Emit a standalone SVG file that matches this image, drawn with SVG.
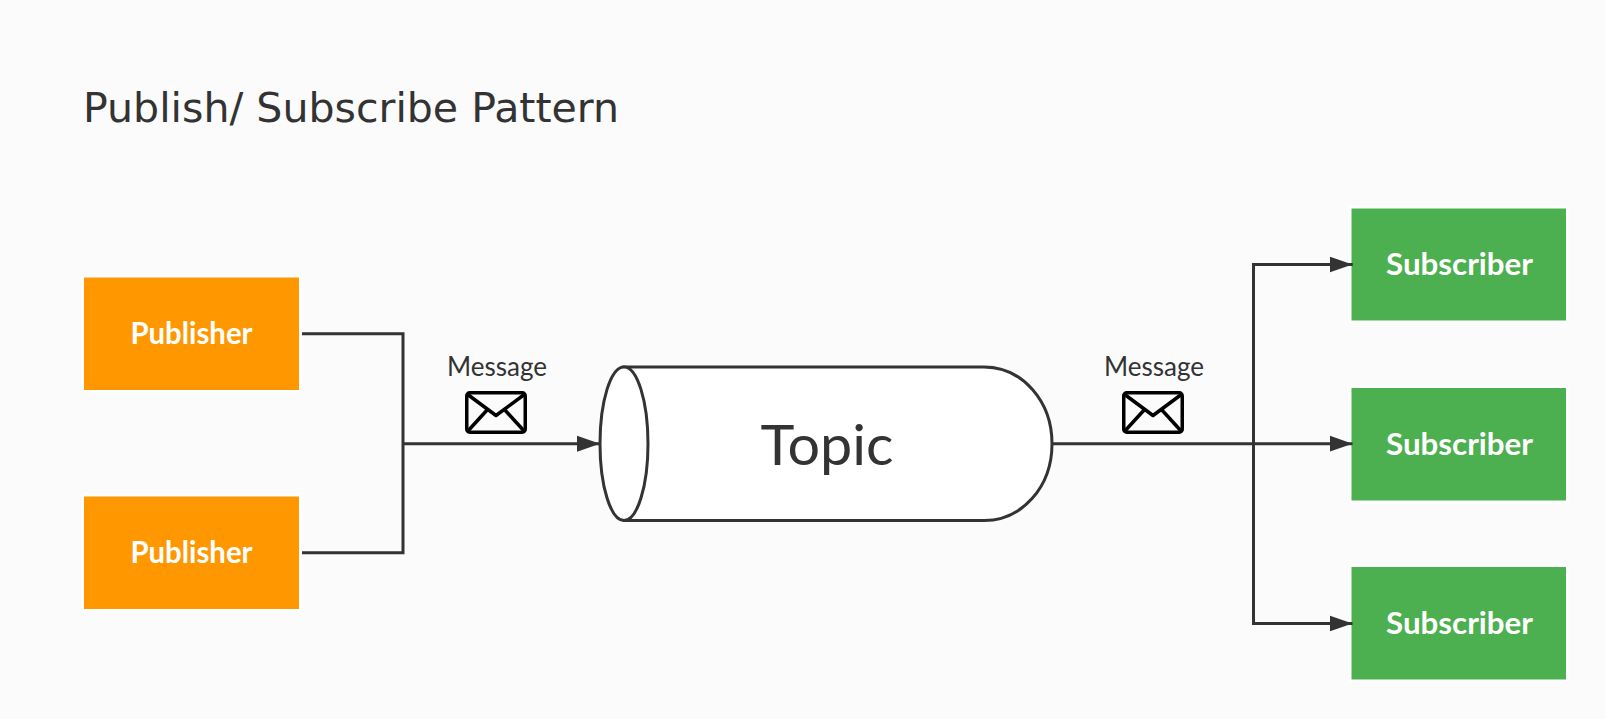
<svg xmlns="http://www.w3.org/2000/svg" width="1605" height="719" viewBox="0 0 1605 719">
<defs>
<style>
.box{stroke:#fff;stroke-width:5;paint-order:stroke}
.pub{fill:#ff9800}
.sub{fill:#4caf50}
.hand{font-family:"Lato","Noto Sans",sans-serif}
.lbl{fill:#fff;font-size:30px;text-anchor:middle;font-weight:700}
.msg{fill:#333;font-size:26px;text-anchor:middle}
.wire{fill:none;stroke:#333;stroke-width:3}
.env{fill:none;stroke:#000;stroke-width:3.500;stroke-linejoin:round}
</style>
<marker id="arrow" markerUnits="userSpaceOnUse" markerWidth="24" markerHeight="18" refX="23" refY="8.5" orient="auto"><path d="M0 0.5L23 8.5L0 16.5Z" fill="#333"/></marker>
<g id="envelope"><rect class="env" x="1.750" y="1.750" width="58.500" height="39.500" rx="3"/><path class="env" d="M2 3L31 24.500L60 3M2 41L23 18M60 41L39 18"/></g>
</defs>
<rect width="1605" height="719" fill="#fbfbfb"/>
<text id="title" x="83" y="122" font-family="DejaVu Sans,sans-serif" font-size="41" fill="#333" textLength="536" lengthAdjust="spacingAndGlyphs">Publish/ Subscribe Pattern</text>
<g id="publisher-1"><rect class="box pub" x="84" y="277.500" width="215" height="112.500"/><text class="hand lbl" x="191.500" y="344" textLength="122" lengthAdjust="spacingAndGlyphs">Publisher</text></g>
<g id="publisher-2"><rect class="box pub" x="84" y="496.500" width="215" height="112.500"/><text class="hand lbl" x="191.500" y="563" textLength="122" lengthAdjust="spacingAndGlyphs">Publisher</text></g>
<g id="subscriber-1"><rect class="box sub" x="1351.500" y="208.500" width="214.500" height="112"/><text class="hand lbl" x="1459.500" y="275" textLength="147" lengthAdjust="spacingAndGlyphs">Subscriber</text></g>
<g id="subscriber-2"><rect class="box sub" x="1351.500" y="388" width="214.500" height="112.500"/><text class="hand lbl" x="1459.500" y="455" textLength="147" lengthAdjust="spacingAndGlyphs">Subscriber</text></g>
<g id="subscriber-3"><rect class="box sub" x="1351.500" y="567" width="214.500" height="112.500"/><text class="hand lbl" x="1459.500" y="634" textLength="147" lengthAdjust="spacingAndGlyphs">Subscriber</text></g>
<g id="topic">
<path d="M624 367H984C1022 367 1052 401 1052 443.700C1052 487 1022 520.500 984 520.500H624Z" fill="#fff" stroke="#333" stroke-width="3"/>
<ellipse cx="624" cy="443.700" rx="24" ry="76.800" fill="#fff" stroke="#333" stroke-width="3"/>
<text class="hand" x="827" y="465" font-size="57" fill="#333" text-anchor="middle" textLength="133" lengthAdjust="spacingAndGlyphs">Topic</text>
</g>
<g id="message-1"><text class="hand msg" x="497" y="375.500" textLength="100" lengthAdjust="spacingAndGlyphs">Message</text><use href="#envelope" x="465" y="391"/></g>
<g id="message-2"><text class="hand msg" x="1154" y="375.500" textLength="100" lengthAdjust="spacingAndGlyphs">Message</text><use href="#envelope" x="1122" y="391"/></g>
<g id="connectors">
<path class="wire" d="M302 333.700H403V552.700H302"/>
<path class="wire" d="M403 443.700H600" marker-end="url(#arrow)"/>
<path class="wire" d="M1053 443.700H1352.500" marker-end="url(#arrow)"/>
<path class="wire" d="M1352.500 264.500H1253.500V623.500H1352.500" marker-end="url(#arrow)"/>
<path class="wire" d="M1253.500 264.500H1352.500" marker-end="url(#arrow)"/>
</g>
</svg>
